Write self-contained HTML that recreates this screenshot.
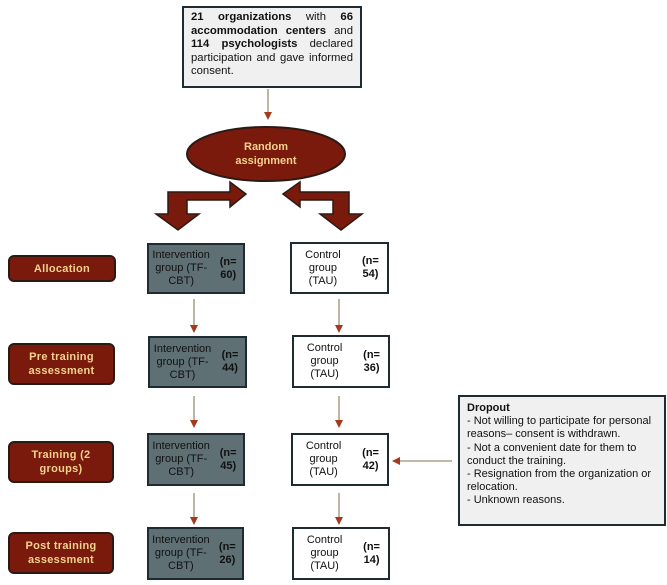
<!DOCTYPE html>
<html><head><style>
body{margin:0;width:667px;height:585px;background:#fff;position:relative;overflow:hidden;font-family:"Liberation Sans",sans-serif}
.a{position:absolute;box-sizing:border-box}
.top{left:182px;top:6px;width:180px;height:82px;border:2px solid #1e2b33;background:#f0f0f0;font-size:11.3px;line-height:13.5px;padding:3px 7px;text-align:justify;color:#111}
.red{background:#7a1a0d;border:2px solid #2b1a14;border-radius:6px;color:#f2d38e;font-weight:bold;font-size:11px;text-align:center;display:flex;align-items:center;justify-content:center;line-height:14px;letter-spacing:.3px}
.gray{background:#5f7075;border:2px solid #1e2b33;font-size:11px;text-align:center;line-height:13px;display:flex;align-items:center;justify-content:center;color:#111}
.wh{background:#fff;border:2px solid #1e2b33;font-size:11px;text-align:center;line-height:13px;display:flex;align-items:center;justify-content:center;color:#111}
.drop{left:458px;top:395px;width:208px;height:131px;border:2px solid #1e2b33;background:#f0f0f0;font-size:11px;line-height:13.2px;padding:5px 7px;color:#111}
</style></head><body>
<div class="a top"><b>21</b> &nbsp; <b>organizations</b> &nbsp; with &nbsp; <b>66 accommodation centers</b> and <b>114 psychologists</b> declared participation and gave informed consent.</div>
<svg class="a" style="left:0;top:0" width="667" height="585">
<defs><marker id="m" markerWidth="8" markerHeight="8" refX="4" refY="4" orient="auto" markerUnits="userSpaceOnUse"><path d="M0,0 L8,4 L0,8z" fill="#a33a1c"/></marker></defs>
<g stroke="#9a8f70" stroke-width="1.3" marker-end="url(#m)">
<line x1="268" y1="89" x2="268" y2="116"/>
<line x1="194" y1="299" x2="194" y2="329"/><line x1="339" y1="299" x2="339" y2="329"/>
<line x1="194" y1="396" x2="194" y2="424"/><line x1="339" y1="396" x2="339" y2="424"/>
<line x1="194" y1="493" x2="194" y2="521"/><line x1="339" y1="493" x2="339" y2="521"/>
<line x1="452" y1="461" x2="396" y2="461"/>
</g>
<ellipse cx="266" cy="154" rx="79" ry="27" fill="#7a1a0d" stroke="#2b1a14" stroke-width="2"/>
<text x="266" y="150" text-anchor="middle" font-size="11" font-weight="bold" fill="#f2d38e" font-family="Liberation Sans">Random</text>
<text x="266" y="164" text-anchor="middle" font-size="11" font-weight="bold" fill="#f2d38e" font-family="Liberation Sans">assignment</text>
<path d="M168,220 L168,198 L230,198 L230,188 L246,200 L230,213 L230,206 L187,206 L187,220 L199,220 L178,236 L156,220Z" fill="#7a1a0d" stroke="#2b1a14" stroke-width="1.5" transform="translate(0,-6)"/>
<path d="M349,220 L349,198 L300,198 L300,188 L283,200 L300,213 L300,206 L333,206 L333,220 L320,220 L341,236 L362,220Z" fill="#7a1a0d" stroke="#2b1a14" stroke-width="1.5" transform="translate(0,-6)"/>
</svg>
<div class="a red" style="left:8px;top:255px;width:108px;height:27px">Allocation</div>
<div class="a red" style="left:8px;top:343px;width:107px;height:42px">Pre training<br>assessment</div>
<div class="a red" style="left:8px;top:441px;width:106px;height:42px">Training (2<br>groups)</div>
<div class="a red" style="left:8px;top:532px;width:106px;height:42px">Post training<br>assessment</div>
<div class="a gray" style="left:147px;top:243px;width:98px;height:51px">Intervention<br>group (TF-CBT)<br><b>(n= 60)</b></div>
<div class="a gray" style="left:148px;top:336px;width:99px;height:52px">Intervention<br>group (TF-CBT)<br><b>(n= 44)</b></div>
<div class="a gray" style="left:147px;top:433px;width:98px;height:53px">Intervention<br>group (TF-CBT)<br><b>(n= 45)</b></div>
<div class="a gray" style="left:147px;top:527px;width:97px;height:53px">Intervention<br>group (TF-CBT)<br><b>(n= 26)</b></div>
<div class="a wh" style="left:290px;top:242px;width:99px;height:52px">Control group<br>(TAU)<br><b>(n= 54)</b></div>
<div class="a wh" style="left:292px;top:335px;width:98px;height:53px">Control group<br>(TAU)<br><b>(n= 36)</b></div>
<div class="a wh" style="left:291px;top:433px;width:98px;height:53px">Control group<br>(TAU)<br><b>(n= 42)</b></div>
<div class="a wh" style="left:292px;top:527px;width:98px;height:53px">Control group<br>(TAU)<br><b>(n= 14)</b></div>
<div class="a drop"><b>Dropout</b><br>- Not willing to participate for personal reasons– consent is withdrawn.<br>- Not a convenient date for them to conduct the training.<br>- Resignation from the organization or relocation.<br>- Unknown reasons.</div>
</body></html>
